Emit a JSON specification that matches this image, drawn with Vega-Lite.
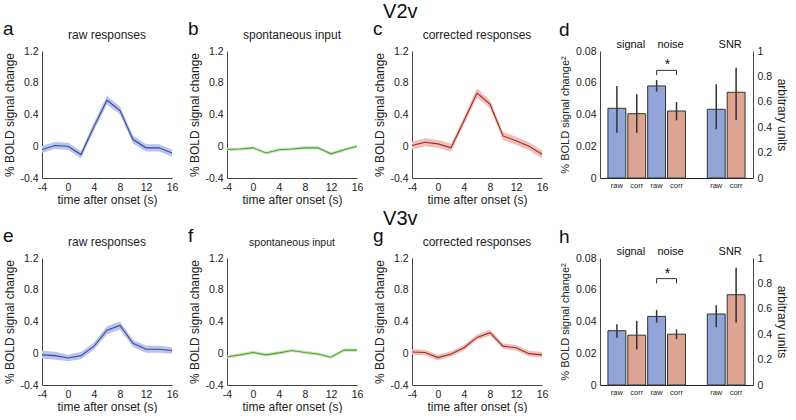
{
  "$schema": "https://vega.github.io/schema/vega-lite/v6.json",
  "background": "white",
  "padding": {"left": 3, "top": 2, "right": 0, "bottom": 0},
  "config": {
    "font": "Liberation Sans",
    "view": {"stroke": null},
    "axis": {"grid": false, "ticks": false, "tickSize": 0, "domainColor": "#444", "domainWidth": 1, "labelFontSize": 10.5, "labelColor": "#222", "titleFontSize": 12, "titleFontWeight": "normal", "titleColor": "#222", "labelFlush": false, "labelOverlap": false, "labelBound": false},
    "axisX": {"labelPadding": 4, "titlePadding": 2},
    "axisY": {"labelPadding": 4, "titlePadding": 3},
    "title": {"fontWeight": "normal", "color": "#111"}
  },
  "datasets": {
    "a": [
      {"t": -4, "m": -0.04, "lo": -0.085, "hi": 0.005},
      {"t": -2, "m": 0.01, "lo": -0.035, "hi": 0.055},
      {"t": 0, "m": 0.0, "lo": -0.045, "hi": 0.045},
      {"t": 2, "m": -0.105, "lo": -0.15, "hi": -0.06},
      {"t": 4, "m": 0.25, "lo": 0.2, "hi": 0.3},
      {"t": 6, "m": 0.58, "lo": 0.525, "hi": 0.635},
      {"t": 8, "m": 0.45, "lo": 0.4, "hi": 0.5},
      {"t": 10, "m": 0.085, "lo": 0.035, "hi": 0.135},
      {"t": 12, "m": -0.02, "lo": -0.065, "hi": 0.025},
      {"t": 14, "m": -0.02, "lo": -0.065, "hi": 0.025},
      {"t": 16, "m": -0.085, "lo": -0.13, "hi": -0.04}
    ],
    "b": [
      {"t": -4, "m": -0.04, "lo": -0.06, "hi": -0.02},
      {"t": -2, "m": -0.035, "lo": -0.055, "hi": -0.015},
      {"t": 0, "m": -0.02, "lo": -0.04, "hi": 0.0},
      {"t": 2, "m": -0.085, "lo": -0.105, "hi": -0.065},
      {"t": 4, "m": -0.045, "lo": -0.065, "hi": -0.025},
      {"t": 6, "m": -0.035, "lo": -0.055, "hi": -0.015},
      {"t": 8, "m": -0.02, "lo": -0.04, "hi": 0.0},
      {"t": 10, "m": -0.02, "lo": -0.04, "hi": 0.0},
      {"t": 12, "m": -0.095, "lo": -0.115, "hi": -0.075},
      {"t": 14, "m": -0.045, "lo": -0.065, "hi": -0.025},
      {"t": 16, "m": 0.0, "lo": -0.02, "hi": 0.02}
    ],
    "c": [
      {"t": -4, "m": 0.01, "lo": -0.04, "hi": 0.06},
      {"t": -2, "m": 0.05, "lo": 0.0, "hi": 0.1},
      {"t": 0, "m": 0.03, "lo": -0.02, "hi": 0.08},
      {"t": 2, "m": -0.02, "lo": -0.07, "hi": 0.03},
      {"t": 4, "m": 0.32, "lo": 0.27, "hi": 0.37},
      {"t": 6, "m": 0.67, "lo": 0.61, "hi": 0.73},
      {"t": 8, "m": 0.53, "lo": 0.48, "hi": 0.58},
      {"t": 10, "m": 0.13, "lo": 0.08, "hi": 0.18},
      {"t": 12, "m": 0.07, "lo": 0.02, "hi": 0.12},
      {"t": 14, "m": 0.0, "lo": -0.05, "hi": 0.05},
      {"t": 16, "m": -0.1, "lo": -0.15, "hi": -0.05}
    ],
    "e": [
      {"t": -4, "m": -0.02, "lo": -0.07, "hi": 0.03},
      {"t": -2, "m": -0.03, "lo": -0.08, "hi": 0.02},
      {"t": 0, "m": -0.06, "lo": -0.1, "hi": -0.02},
      {"t": 2, "m": -0.03, "lo": -0.075, "hi": 0.015},
      {"t": 4, "m": 0.09, "lo": 0.045, "hi": 0.135},
      {"t": 6, "m": 0.29, "lo": 0.24, "hi": 0.34},
      {"t": 8, "m": 0.35, "lo": 0.3, "hi": 0.4},
      {"t": 10, "m": 0.125, "lo": 0.08, "hi": 0.17},
      {"t": 12, "m": 0.05, "lo": 0.005, "hi": 0.095},
      {"t": 14, "m": 0.05, "lo": 0.005, "hi": 0.095},
      {"t": 16, "m": 0.035, "lo": -0.005, "hi": 0.075}
    ],
    "f": [
      {"t": -4, "m": -0.045, "lo": -0.065, "hi": -0.025},
      {"t": -2, "m": -0.02, "lo": -0.04, "hi": 0.0},
      {"t": 0, "m": 0.01, "lo": -0.01, "hi": 0.03},
      {"t": 2, "m": -0.02, "lo": -0.04, "hi": 0.0},
      {"t": 4, "m": 0.005, "lo": -0.015, "hi": 0.025},
      {"t": 6, "m": 0.035, "lo": 0.015, "hi": 0.055},
      {"t": 8, "m": 0.01, "lo": -0.01, "hi": 0.03},
      {"t": 10, "m": -0.01, "lo": -0.03, "hi": 0.01},
      {"t": 12, "m": -0.05, "lo": -0.07, "hi": -0.03},
      {"t": 14, "m": 0.04, "lo": 0.02, "hi": 0.06},
      {"t": 16, "m": 0.04, "lo": 0.02, "hi": 0.06}
    ],
    "g": [
      {"t": -4, "m": 0.015, "lo": -0.02, "hi": 0.05},
      {"t": -2, "m": 0.01, "lo": -0.025, "hi": 0.045},
      {"t": 0, "m": -0.055, "lo": -0.09, "hi": -0.02},
      {"t": 2, "m": -0.01, "lo": -0.045, "hi": 0.025},
      {"t": 4, "m": 0.07, "lo": 0.035, "hi": 0.105},
      {"t": 6, "m": 0.2, "lo": 0.165, "hi": 0.235},
      {"t": 8, "m": 0.26, "lo": 0.225, "hi": 0.295},
      {"t": 10, "m": 0.09, "lo": 0.055, "hi": 0.125},
      {"t": 12, "m": 0.07, "lo": 0.035, "hi": 0.105},
      {"t": 14, "m": -0.005, "lo": -0.04, "hi": 0.03},
      {"t": 16, "m": -0.02, "lo": -0.055, "hi": 0.015}
    ],
    "d_bars": [
      {"slot": "signal|raw", "measure": "signal", "type": "raw", "v": 0.0439, "lo": 0.0285, "hi": 0.058},
      {"slot": "signal|corr", "measure": "signal", "type": "corr", "v": 0.0405, "lo": 0.0285, "hi": 0.0527},
      {"slot": "noise|raw", "measure": "noise", "type": "raw", "v": 0.058, "lo": 0.0544, "hi": 0.0617},
      {"slot": "noise|corr", "measure": "noise", "type": "corr", "v": 0.0422, "lo": 0.0363, "hi": 0.0479},
      {"slot": "SNR|raw", "measure": "SNR", "type": "raw", "v": 0.541, "lo": 0.383, "hi": 0.738},
      {"slot": "SNR|corr", "measure": "SNR", "type": "corr", "v": 0.675, "lo": 0.457, "hi": 0.869}
    ],
    "h_bars": [
      {"slot": "signal|raw", "measure": "signal", "type": "raw", "v": 0.0342, "lo": 0.0298, "hi": 0.0383},
      {"slot": "signal|corr", "measure": "signal", "type": "corr", "v": 0.0314, "lo": 0.0223, "hi": 0.0404},
      {"slot": "noise|raw", "measure": "noise", "type": "raw", "v": 0.0432, "lo": 0.0394, "hi": 0.0473},
      {"slot": "noise|corr", "measure": "noise", "type": "corr", "v": 0.032, "lo": 0.0288, "hi": 0.035},
      {"slot": "SNR|raw", "measure": "SNR", "type": "raw", "v": 0.559, "lo": 0.454, "hi": 0.627},
      {"slot": "SNR|corr", "measure": "SNR", "type": "corr", "v": 0.711, "lo": 0.492, "hi": 0.924}
    ],
    "d_br": [
      {"slot": "noise|raw", "v": 0.0648, "i": 1},
      {"slot": "noise|raw", "v": 0.0678, "i": 2},
      {"slot": "noise|corr", "v": 0.0678, "i": 3},
      {"slot": "noise|corr", "v": 0.0648, "i": 4}
    ],
    "h_br": [
      {"slot": "noise|raw", "v": 0.064, "i": 1},
      {"slot": "noise|raw", "v": 0.067, "i": 2},
      {"slot": "noise|corr", "v": 0.067, "i": 3},
      {"slot": "noise|corr", "v": 0.064, "i": 4}
    ],
    "groups": [
      {"slot": "signal|corr", "label": "signal"},
      {"slot": "noise|corr", "label": "noise"},
      {"slot": "SNR|corr", "label": "SNR"}
    ]
  },
  "spacing": 3,
  "vconcat": [
    {
      "title": {"text": "V2v", "fontSize": 20, "anchor": "middle", "offset": -2, "dx": 5},
      "spacing": 10,
      "hconcat": [
        {
          "width": 130, "height": 127,
          "data": {"name": "a"},
          "layer": [
            {"mark": {"type": "area", "color": "#b8c3ee", "opacity": 1},
             "encoding": {
               "x": {"field": "t", "type": "quantitative", "scale": {"domain": [-4, 16], "nice": false}, "axis": {"values": [-4, 0, 4, 8, 12, 16], "tickCount": 12, "labelOverlap": false, "title": "time after onset (s)", "labelExpr": "'' + datum.value"}},
               "y": {"field": "lo", "type": "quantitative", "scale": {"domain": [-0.4, 1.2], "nice": false, "zero": false}, "axis": {"values": [-0.4, 0, 0.4, 0.8, 1.2], "tickCount": 12, "labelOverlap": false, "title": "% BOLD signal change", "labelExpr": "'' + datum.value"}},
               "y2": {"field": "hi"}}},
            {"mark": {"type": "line", "color": "#3b4a96", "strokeWidth": 1.1},
             "encoding": {"x": {"field": "t", "type": "quantitative"}, "y": {"field": "m", "type": "quantitative"}}},
            {"data": {"values": [{"label": "a"}]}, "mark": {"type": "text", "fontSize": 19, "align": "left", "baseline": "alphabetic", "dx": -39, "dy": -16, "color": "#111"},
             "encoding": {"x": {"datum": -4}, "y": {"datum": 1.2}, "text": {"field": "label"}}},
            {"data": {"values": [{"label": "raw responses"}]}, "mark": {"type": "text", "fontSize": 12, "align": "center", "baseline": "alphabetic", "dy": -12, "color": "#222"},
             "encoding": {"x": {"datum": 6}, "y": {"datum": 1.2}, "text": {"field": "label"}}}
          ]
        },
        {
          "width": 130, "height": 127,
          "data": {"name": "b"},
          "layer": [
            {"mark": {"type": "area", "color": "#c8e6b8", "opacity": 1},
             "encoding": {
               "x": {"field": "t", "type": "quantitative", "scale": {"domain": [-4, 16], "nice": false}, "axis": {"values": [-4, 0, 4, 8, 12, 16], "tickCount": 12, "labelOverlap": false, "title": "time after onset (s)", "labelExpr": "'' + datum.value"}},
               "y": {"field": "lo", "type": "quantitative", "scale": {"domain": [-0.4, 1.2], "nice": false, "zero": false}, "axis": {"values": [-0.4, 0, 0.4, 0.8, 1.2], "tickCount": 12, "labelOverlap": false, "title": "% BOLD signal change", "labelExpr": "'' + datum.value"}},
               "y2": {"field": "hi"}}},
            {"mark": {"type": "line", "color": "#52a03c", "strokeWidth": 1.1},
             "encoding": {"x": {"field": "t", "type": "quantitative"}, "y": {"field": "m", "type": "quantitative"}}},
            {"data": {"values": [{"label": "b"}]}, "mark": {"type": "text", "fontSize": 19, "align": "left", "baseline": "alphabetic", "dx": -39, "dy": -16, "color": "#111"},
             "encoding": {"x": {"datum": -4}, "y": {"datum": 1.2}, "text": {"field": "label"}}},
            {"data": {"values": [{"label": "spontaneous input"}]}, "mark": {"type": "text", "fontSize": 12, "align": "center", "baseline": "alphabetic", "dy": -12, "color": "#222"},
             "encoding": {"x": {"datum": 6}, "y": {"datum": 1.2}, "text": {"field": "label"}}}
          ]
        },
        {
          "width": 130, "height": 127,
          "data": {"name": "c"},
          "layer": [
            {"mark": {"type": "area", "color": "#efc0b6", "opacity": 1},
             "encoding": {
               "x": {"field": "t", "type": "quantitative", "scale": {"domain": [-4, 16], "nice": false}, "axis": {"values": [-4, 0, 4, 8, 12, 16], "tickCount": 12, "labelOverlap": false, "title": "time after onset (s)", "labelExpr": "'' + datum.value"}},
               "y": {"field": "lo", "type": "quantitative", "scale": {"domain": [-0.4, 1.2], "nice": false, "zero": false}, "axis": {"values": [-0.4, 0, 0.4, 0.8, 1.2], "tickCount": 12, "labelOverlap": false, "title": "% BOLD signal change", "labelExpr": "'' + datum.value"}},
               "y2": {"field": "hi"}}},
            {"mark": {"type": "line", "color": "#a0282a", "strokeWidth": 1.1},
             "encoding": {"x": {"field": "t", "type": "quantitative"}, "y": {"field": "m", "type": "quantitative"}}},
            {"data": {"values": [{"label": "c"}]}, "mark": {"type": "text", "fontSize": 19, "align": "left", "baseline": "alphabetic", "dx": -39, "dy": -16, "color": "#111"},
             "encoding": {"x": {"datum": -4}, "y": {"datum": 1.2}, "text": {"field": "label"}}},
            {"data": {"values": [{"label": "corrected responses"}]}, "mark": {"type": "text", "fontSize": 12, "align": "center", "baseline": "alphabetic", "dy": -12, "color": "#222"},
             "encoding": {"x": {"datum": 6}, "y": {"datum": 1.2}, "text": {"field": "label"}}}
          ]
        },
        {
          "width": 153, "height": 127,
          "layer": [
            {
              "data": {"name": "d_bars"},
              "transform": [{"filter": "datum.measure != 'SNR'"}],
              "layer": [
                {"mark": {"type": "bar", "stroke": "#333", "strokeWidth": 1},
                 "encoding": {
                   "x": {"field": "slot", "type": "nominal", "title": null, "scale": {"domain": ["signal|raw", "signal|corr", "noise|raw", "noise|corr", "gap", "SNR|raw", "SNR|corr"], "paddingInner": 0.1, "paddingOuter": 0.4}, "axis": {"title": null, "labelAngle": 0, "labelFontSize": 7.5, "labelPadding": 3, "labelOverlap": false, "domainColor": "#222", "labelExpr": "indexof(datum.value, 'raw') >= 0 ? 'raw' : (indexof(datum.value, 'corr') >= 0 ? 'corr' : '')"}},
                   "y": {"field": "v", "type": "quantitative", "scale": {"domain": [0, 0.08], "nice": false}, "axis": {"orient": "left", "values": [0, 0.02, 0.04, 0.06, 0.08], "tickCount": 12, "labelOverlap": false, "title": "% BOLD signal change²", "titleFontSize": 11, "titlePadding": 5, "labelExpr": "'' + datum.value"}},
                   "color": {"field": "type", "type": "nominal", "scale": {"domain": ["raw", "corr"], "range": ["#92a5d9", "#dda491"]}, "legend": null}}},
                {"mark": {"type": "rule", "color": "#333", "strokeWidth": 1.5},
                 "encoding": {"x": {"field": "slot", "type": "nominal", "title": null}, "y": {"field": "lo", "type": "quantitative"}, "y2": {"field": "hi"}}},
                {"data": {"name": "d_br"}, "mark": {"type": "line", "color": "#333", "strokeWidth": 1},
                 "encoding": {"x": {"field": "slot", "type": "nominal", "title": null}, "y": {"field": "v", "type": "quantitative"}, "order": {"field": "i"}}},
                {"data": {"name": "groups"}, "mark": {"type": "text", "fontSize": 11, "align": "center", "baseline": "alphabetic", "dx": 3, "dy": -3, "color": "#111"},
                 "encoding": {"x": {"field": "slot", "type": "nominal", "title": null, "bandPosition": 0}, "y": {"datum": 0.08}, "text": {"field": "label"}}},
                {"data": {"values": [{"label": "*"}]}, "mark": {"type": "text", "fontSize": 14, "align": "center", "baseline": "alphabetic", "dy": -1, "color": "#111"},
                 "encoding": {"x": {"datum": "noise|corr", "bandPosition": 0}, "y": {"datum": 0.0678}, "text": {"field": "label"}}},
                {"data": {"values": [{"label": "d"}]}, "mark": {"type": "text", "fontSize": 19, "align": "left", "baseline": "alphabetic", "dx": -58, "dy": -15, "color": "#111"},
                 "encoding": {"x": {"datum": "signal|raw"}, "y": {"datum": 0.08}, "text": {"field": "label"}}}
              ]
            },
            {
              "data": {"name": "d_bars"},
              "transform": [{"filter": "datum.measure == 'SNR'"}],
              "layer": [
                {"mark": {"type": "bar", "stroke": "#333", "strokeWidth": 1},
                 "encoding": {
                   "x": {"field": "slot", "type": "nominal", "title": null},
                   "y": {"field": "v", "type": "quantitative", "scale": {"domain": [0, 1], "nice": false}, "axis": {"orient": "right", "values": [0, 0.2, 0.4, 0.6, 0.8, 1], "tickCount": 12, "labelOverlap": false, "title": "arbitrary units", "labelExpr": "'' + datum.value"}},
                   "color": {"field": "type", "type": "nominal", "legend": null}}},
                {"mark": {"type": "rule", "color": "#333", "strokeWidth": 1.5},
                 "encoding": {"x": {"field": "slot", "type": "nominal", "title": null}, "y": {"field": "lo", "type": "quantitative"}, "y2": {"field": "hi"}}}
              ]
            }
          ],
          "resolve": {"scale": {"y": "independent"}}
        }
      ]
    },
    {
      "title": {"text": "V3v", "fontSize": 20, "anchor": "middle", "offset": -2, "dx": 5},
      "spacing": 10,
      "hconcat": [
        {
          "width": 130, "height": 127,
          "data": {"name": "e"},
          "layer": [
            {"mark": {"type": "area", "color": "#b8c3ee", "opacity": 1},
             "encoding": {
               "x": {"field": "t", "type": "quantitative", "scale": {"domain": [-4, 16], "nice": false}, "axis": {"values": [-4, 0, 4, 8, 12, 16], "tickCount": 12, "labelOverlap": false, "title": "time after onset (s)", "labelExpr": "'' + datum.value"}},
               "y": {"field": "lo", "type": "quantitative", "scale": {"domain": [-0.4, 1.2], "nice": false, "zero": false}, "axis": {"values": [-0.4, 0, 0.4, 0.8, 1.2], "tickCount": 12, "labelOverlap": false, "title": "% BOLD signal change", "labelExpr": "'' + datum.value"}},
               "y2": {"field": "hi"}}},
            {"mark": {"type": "line", "color": "#3b4a96", "strokeWidth": 1.1},
             "encoding": {"x": {"field": "t", "type": "quantitative"}, "y": {"field": "m", "type": "quantitative"}}},
            {"data": {"values": [{"label": "e"}]}, "mark": {"type": "text", "fontSize": 19, "align": "left", "baseline": "alphabetic", "dx": -39, "dy": -16, "color": "#111"},
             "encoding": {"x": {"datum": -4}, "y": {"datum": 1.2}, "text": {"field": "label"}}},
            {"data": {"values": [{"label": "raw responses"}]}, "mark": {"type": "text", "fontSize": 12, "align": "center", "baseline": "alphabetic", "dy": -12, "color": "#222"},
             "encoding": {"x": {"datum": 6}, "y": {"datum": 1.2}, "text": {"field": "label"}}}
          ]
        },
        {
          "width": 130, "height": 127,
          "data": {"name": "f"},
          "layer": [
            {"mark": {"type": "area", "color": "#c8e6b8", "opacity": 1},
             "encoding": {
               "x": {"field": "t", "type": "quantitative", "scale": {"domain": [-4, 16], "nice": false}, "axis": {"values": [-4, 0, 4, 8, 12, 16], "tickCount": 12, "labelOverlap": false, "title": "time after onset (s)", "labelExpr": "'' + datum.value"}},
               "y": {"field": "lo", "type": "quantitative", "scale": {"domain": [-0.4, 1.2], "nice": false, "zero": false}, "axis": {"values": [-0.4, 0, 0.4, 0.8, 1.2], "tickCount": 12, "labelOverlap": false, "title": "% BOLD signal change", "labelExpr": "'' + datum.value"}},
               "y2": {"field": "hi"}}},
            {"mark": {"type": "line", "color": "#52a03c", "strokeWidth": 1.1},
             "encoding": {"x": {"field": "t", "type": "quantitative"}, "y": {"field": "m", "type": "quantitative"}}},
            {"data": {"values": [{"label": "f"}]}, "mark": {"type": "text", "fontSize": 19, "align": "left", "baseline": "alphabetic", "dx": -39, "dy": -16, "color": "#111"},
             "encoding": {"x": {"datum": -4}, "y": {"datum": 1.2}, "text": {"field": "label"}}},
            {"data": {"values": [{"label": "spontaneous input"}]}, "mark": {"type": "text", "fontSize": 10.5, "align": "center", "baseline": "alphabetic", "dy": -12, "color": "#222"},
             "encoding": {"x": {"datum": 6}, "y": {"datum": 1.2}, "text": {"field": "label"}}}
          ]
        },
        {
          "width": 130, "height": 127,
          "data": {"name": "g"},
          "layer": [
            {"mark": {"type": "area", "color": "#efc0b6", "opacity": 1},
             "encoding": {
               "x": {"field": "t", "type": "quantitative", "scale": {"domain": [-4, 16], "nice": false}, "axis": {"values": [-4, 0, 4, 8, 12, 16], "tickCount": 12, "labelOverlap": false, "title": "time after onset (s)", "labelExpr": "'' + datum.value"}},
               "y": {"field": "lo", "type": "quantitative", "scale": {"domain": [-0.4, 1.2], "nice": false, "zero": false}, "axis": {"values": [-0.4, 0, 0.4, 0.8, 1.2], "tickCount": 12, "labelOverlap": false, "title": "% BOLD signal change", "labelExpr": "'' + datum.value"}},
               "y2": {"field": "hi"}}},
            {"mark": {"type": "line", "color": "#a0282a", "strokeWidth": 1.1},
             "encoding": {"x": {"field": "t", "type": "quantitative"}, "y": {"field": "m", "type": "quantitative"}}},
            {"data": {"values": [{"label": "g"}]}, "mark": {"type": "text", "fontSize": 19, "align": "left", "baseline": "alphabetic", "dx": -39, "dy": -16, "color": "#111"},
             "encoding": {"x": {"datum": -4}, "y": {"datum": 1.2}, "text": {"field": "label"}}},
            {"data": {"values": [{"label": "corrected responses"}]}, "mark": {"type": "text", "fontSize": 12, "align": "center", "baseline": "alphabetic", "dy": -12, "color": "#222"},
             "encoding": {"x": {"datum": 6}, "y": {"datum": 1.2}, "text": {"field": "label"}}}
          ]
        },
        {
          "width": 153, "height": 127,
          "layer": [
            {
              "data": {"name": "h_bars"},
              "transform": [{"filter": "datum.measure != 'SNR'"}],
              "layer": [
                {"mark": {"type": "bar", "stroke": "#333", "strokeWidth": 1},
                 "encoding": {
                   "x": {"field": "slot", "type": "nominal", "title": null, "scale": {"domain": ["signal|raw", "signal|corr", "noise|raw", "noise|corr", "gap", "SNR|raw", "SNR|corr"], "paddingInner": 0.1, "paddingOuter": 0.4}, "axis": {"title": null, "labelAngle": 0, "labelFontSize": 7.5, "labelPadding": 3, "labelOverlap": false, "domainColor": "#222", "labelExpr": "indexof(datum.value, 'raw') >= 0 ? 'raw' : (indexof(datum.value, 'corr') >= 0 ? 'corr' : '')"}},
                   "y": {"field": "v", "type": "quantitative", "scale": {"domain": [0, 0.08], "nice": false}, "axis": {"orient": "left", "values": [0, 0.02, 0.04, 0.06, 0.08], "tickCount": 12, "labelOverlap": false, "title": "% BOLD signal change²", "titleFontSize": 11, "titlePadding": 5, "labelExpr": "'' + datum.value"}},
                   "color": {"field": "type", "type": "nominal", "scale": {"domain": ["raw", "corr"], "range": ["#92a5d9", "#dda491"]}, "legend": null}}},
                {"mark": {"type": "rule", "color": "#333", "strokeWidth": 1.5},
                 "encoding": {"x": {"field": "slot", "type": "nominal", "title": null}, "y": {"field": "lo", "type": "quantitative"}, "y2": {"field": "hi"}}},
                {"data": {"name": "h_br"}, "mark": {"type": "line", "color": "#333", "strokeWidth": 1},
                 "encoding": {"x": {"field": "slot", "type": "nominal", "title": null}, "y": {"field": "v", "type": "quantitative"}, "order": {"field": "i"}}},
                {"data": {"name": "groups"}, "mark": {"type": "text", "fontSize": 11, "align": "center", "baseline": "alphabetic", "dx": 3, "dy": -3, "color": "#111"},
                 "encoding": {"x": {"field": "slot", "type": "nominal", "title": null, "bandPosition": 0}, "y": {"datum": 0.08}, "text": {"field": "label"}}},
                {"data": {"values": [{"label": "*"}]}, "mark": {"type": "text", "fontSize": 14, "align": "center", "baseline": "alphabetic", "dy": -1, "color": "#111"},
                 "encoding": {"x": {"datum": "noise|corr", "bandPosition": 0}, "y": {"datum": 0.067}, "text": {"field": "label"}}},
                {"data": {"values": [{"label": "h"}]}, "mark": {"type": "text", "fontSize": 19, "align": "left", "baseline": "alphabetic", "dx": -58, "dy": -15, "color": "#111"},
                 "encoding": {"x": {"datum": "signal|raw"}, "y": {"datum": 0.08}, "text": {"field": "label"}}}
              ]
            },
            {
              "data": {"name": "h_bars"},
              "transform": [{"filter": "datum.measure == 'SNR'"}],
              "layer": [
                {"mark": {"type": "bar", "stroke": "#333", "strokeWidth": 1},
                 "encoding": {
                   "x": {"field": "slot", "type": "nominal", "title": null},
                   "y": {"field": "v", "type": "quantitative", "scale": {"domain": [0, 1], "nice": false}, "axis": {"orient": "right", "values": [0, 0.2, 0.4, 0.6, 0.8, 1], "tickCount": 12, "labelOverlap": false, "title": "arbitrary units", "labelExpr": "'' + datum.value"}},
                   "color": {"field": "type", "type": "nominal", "legend": null}}},
                {"mark": {"type": "rule", "color": "#333", "strokeWidth": 1.5},
                 "encoding": {"x": {"field": "slot", "type": "nominal", "title": null}, "y": {"field": "lo", "type": "quantitative"}, "y2": {"field": "hi"}}}
              ]
            }
          ],
          "resolve": {"scale": {"y": "independent"}}
        }
      ]
    }
  ]
}
